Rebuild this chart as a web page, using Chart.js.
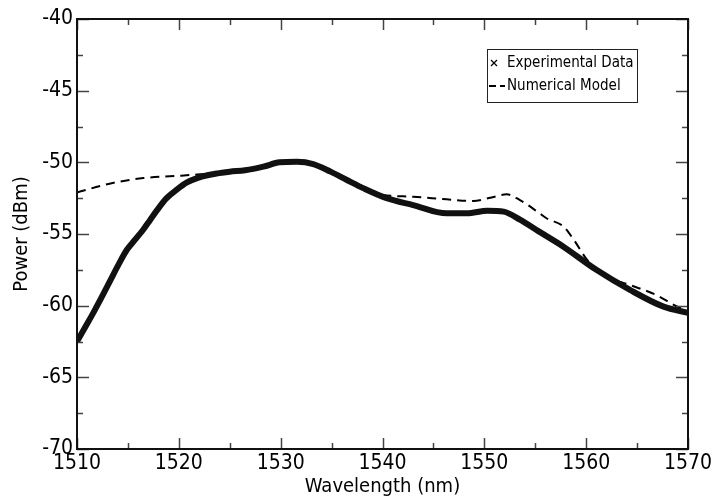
<!DOCTYPE html>
<html>
<head>
<meta charset="utf-8">
<script src="https://cdn.jsdelivr.net/npm/chart.js@4/dist/chart.umd.min.js"></script>
<style>
  html, body { margin: 0; padding: 0; background: #fff; }
  #wrap { width: 718px; height: 499px; }
</style>
</head>
<body>
<div id="wrap"><canvas id="spectrum" width="718" height="499"></canvas></div>
<script>
const expWavelength = [1510, 1510.8, 1511.6, 1512.5, 1513.3, 1514.1, 1514.9, 1515.7, 1516.5, 1517.2,
  1517.9, 1518.8, 1519.8, 1520.8, 1521.8, 1522.8, 1523.8, 1525, 1526.5, 1528.3, 1529.9, 1531.6,
  1533.2, 1534.9, 1536.5, 1538.1, 1540.4, 1543, 1546.3, 1548.3, 1550.3, 1551.9, 1553.5, 1555.3,
  1557.8, 1561, 1564.3, 1567.6, 1570];
const expPower = [-62.5, -61.5, -60.5, -59.3, -58.2, -57.1, -56.1, -55.4, -54.7, -54.0,
  -53.3, -52.5, -51.9, -51.4, -51.1, -50.9, -50.77, -50.65, -50.55, -50.3, -50.0, -49.96,
  -50.12, -50.65, -51.23, -51.8, -52.5, -52.98, -53.56, -53.56, -53.37, -53.44, -54.0, -54.8,
  -55.9, -57.5, -58.9, -60.07, -60.5];

// numerical model
const modelWavelength = [1510, 1513.3, 1516.5, 1519.8, 1521.8, 1524, 1526, 1528, 1530, 1531.6,
  1533.2, 1535, 1536.5, 1538.1, 1539.8, 1543, 1546.3, 1548.9, 1550.6, 1552.2, 1553.5, 1555.2,
  1556.1, 1557.8, 1558.8, 1560.1, 1561.7, 1564.3, 1566.9, 1568.6, 1570];
const modelPower = [-52.1, -51.47, -51.1, -50.95, -50.85, -50.7, -50.55, -50.3, -50.0, -49.95,
  -50.1, -50.6, -51.1, -51.7, -52.23, -52.4, -52.58, -52.7, -52.47, -52.23, -52.63, -53.44,
  -53.9, -54.49, -55.42, -56.81, -57.86, -58.56, -59.26, -59.95, -60.42];

const xRange = [1510, 1570];
const yRange = [-70, -40];
const xStep = 10;
const yStep = 5;

const fontFamily = '"DejaVu Sans Condensed", "DejaVu Sans", sans-serif';

function pairs(xs, ys) {
  return xs.map((x, i) => ({ x: x, y: ys[i] }));
}

// frame + inward ticks on all four sides
const frameTicks = {
  id: 'frameTicks',
  afterDatasetsDraw(chart) {
    const { ctx, chartArea: a, scales } = chart;
    const xs = scales.x, ys = scales.y;
    ctx.save();
    ctx.strokeStyle = '#444';
    ctx.lineWidth = 1.5;
    ctx.beginPath();
    for (let v = xRange[0]; v <= xRange[1]; v += xStep / 2) {
      let px = Math.round(xs.getPixelForValue(v)) + 0.5;
      let len = (v % xStep === 0) ? 11 : 6;
      ctx.moveTo(px, a.bottom); ctx.lineTo(px, a.bottom - len);
      ctx.moveTo(px, a.top); ctx.lineTo(px, a.top + len);
    }
    for (let v = yRange[0]; v <= yRange[1]; v += yStep / 2) {
      let py = Math.round(ys.getPixelForValue(v)) + 0.5;
      let len = (v % yStep === 0) ? 12 : 6;
      ctx.moveTo(a.left, py); ctx.lineTo(a.left + len, py);
      ctx.moveTo(a.right, py); ctx.lineTo(a.right - len, py);
    }
    ctx.stroke();
    ctx.strokeStyle = '#111';
    ctx.lineWidth = 2;
    ctx.strokeRect(a.left, a.top, a.right - a.left, a.bottom - a.top);
    ctx.restore();
  }
};

// boxed legend in the upper right
const boxLegend = {
  id: 'boxLegend',
  afterDraw(chart) {
    const { ctx, chartArea: a } = chart;
    const ds = chart.data.datasets;
    const bx = a.right - 201, by = a.top + 30, bw = 150, bh = 53;
    ctx.save();
    ctx.fillStyle = '#fff';
    ctx.fillRect(bx, by, bw, bh);
    ctx.strokeStyle = '#222';
    ctx.lineWidth = 1;
    ctx.strokeRect(bx + 0.5, by + 0.5, bw, bh);

    // x marker
    let y1 = by + 14;
    ctx.strokeStyle = '#000';
    ctx.lineWidth = 1.2;
    ctx.beginPath();
    ctx.moveTo(bx + 4, y1 - 3); ctx.lineTo(bx + 10, y1 + 3);
    ctx.moveTo(bx + 10, y1 - 3); ctx.lineTo(bx + 4, y1 + 3);
    ctx.stroke();

    // dashed sample
    let y2 = by + 37;
    ctx.lineWidth = 2;
    ctx.setLineDash([7, 4]);
    ctx.beginPath();
    ctx.moveTo(bx + 2, y2); ctx.lineTo(bx + 18, y2);
    ctx.stroke();
    ctx.setLineDash([]);

    ctx.fillStyle = '#000';
    ctx.font = '15px ' + fontFamily;
    ctx.textBaseline = 'middle';
    ctx.fillText(ds[0].label, bx + 20, y1);
    ctx.fillText(ds[1].label, bx + 20, y2);
    ctx.restore();
  }
};

new Chart(document.getElementById('spectrum'), {
  type: 'line',
  data: {
    datasets: [{
      label: 'Experimental Data',
      data: pairs(expWavelength, expPower),
      borderColor: '#111',
      borderWidth: 6,
      pointRadius: 0,
      cubicInterpolationMode: 'monotone',
      fill: false
    },
    {
      label: 'Numerical Model',
      data: pairs(modelWavelength, modelPower),
      borderColor: '#000',
      borderWidth: 2,
      borderDash: [9, 6],
      pointRadius: 0,
      cubicInterpolationMode: 'monotone',
      fill: false
    }]
  },
  options: {
    responsive: false,
    animation: false,
    layout: { padding: { top: 19, right: 30, left: 0, bottom: 0 } },
    plugins: {
      legend: { display: false },
      tooltip: { enabled: false }
    },
    scales: {
      x: {
        type: 'linear',
        min: xRange[0],
        max: xRange[1],
        grid: { display: false, drawTicks: false },
        border: { display: false },
        ticks: {
          stepSize: xStep,
          padding: 2,
          color: '#000',
          font: { family: fontFamily, size: 21 },
          maxRotation: 0,
          autoSkip: false,
          callback: (v) => String(v)
        },
        title: {
          display: true,
          text: 'Wavelength (nm)',
          color: '#000',
          font: { family: fontFamily, size: 20 },
          padding: { top: 0, bottom: 0 }
        },
        afterFit(scale) { scale.height = 50; }
      },
      y: {
        min: yRange[0],
        max: yRange[1],
        grid: { display: false, drawTicks: false },
        border: { display: false },
        ticks: {
          stepSize: yStep,
          padding: 4,
          color: '#000',
          font: { family: fontFamily, size: 21 },
          autoSkip: false
        },
        title: {
          display: true,
          text: 'Power (dBm)',
          color: '#000',
          font: { family: fontFamily, size: 20 },
          padding: { top: 10, bottom: 0 }
        },
        afterFit(scale) { scale.width = 77; }
      }
    }
  },
  plugins: [frameTicks, boxLegend]
});
</script>
</body>
</html>
